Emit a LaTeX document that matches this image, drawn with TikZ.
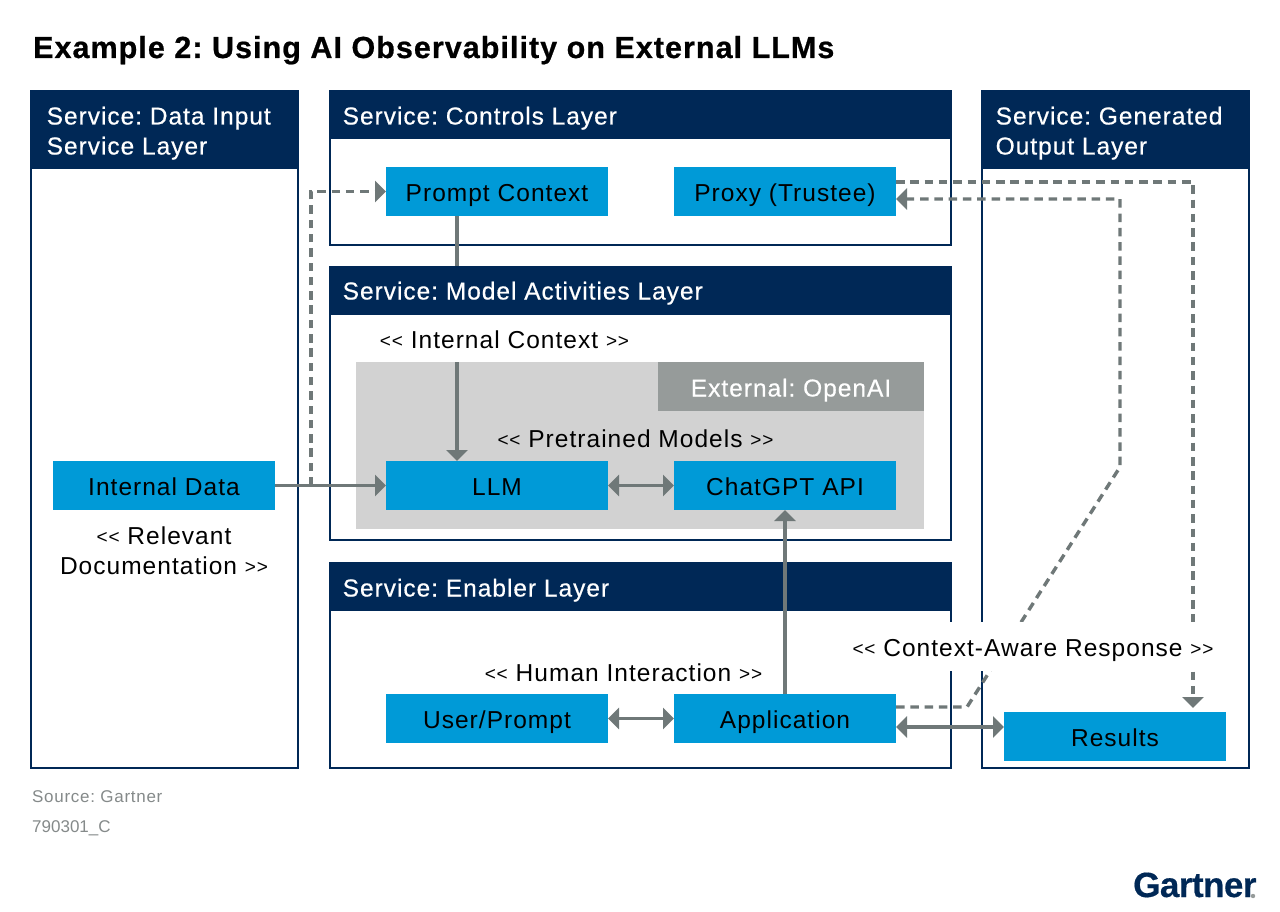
\documentclass[tikz,border=0pt]{standalone}
\usepackage{fontspec}
\setmainfont{Liberation Sans}[LetterSpace=4.2]
\newfontfamily\plainf{Liberation Sans}
\newfontfamily\headf{Liberation Sans}[LetterSpace=4.0,FakeBold=0.5]
\newfontfamily\titlef{Liberation Sans Bold}[LetterSpace=3.4,FakeBold=0.7]
\newfontfamily\logof{Liberation Sans Bold}[LetterSpace=-1.5,FakeBold=0.4]
\usetikzlibrary{arrows.meta,calc}
\definecolor{navy}{HTML}{002856}
\definecolor{skyb}{HTML}{009AD7}
\definecolor{lgray}{HTML}{D2D2D2}
\definecolor{mgray}{HTML}{969B9A}
\definecolor{conn}{HTML}{6F7878}
\definecolor{srcg}{HTML}{858A8A}
\newcommand{\bodyf}{\fontsize{24.5}{30}\selectfont}
\newcommand{\lch}{{\fontsize{19}{30}\selectfont\raisebox{1pt}{<{}<}}}
\newcommand{\rch}{{\fontsize{19}{30}\selectfont\raisebox{1pt}{>{}>}}}
\tikzset{
  x=1pt,y=-1pt,
  layer/.style={draw=navy,line width=1.6pt,fill=white,inner sep=0pt,outer sep=0pt,anchor=north west},
  head/.style={fill=navy,inner sep=0pt,outer sep=0pt,anchor=north west,minimum width=#1},
  htext/.style={text=white,font=\headf\bodyf,inner sep=0pt,anchor=base west},
  bluebox/.style={fill=skyb,text=black,font=\bodyf,inner sep=0pt,outer sep=0pt,minimum width=222pt,minimum height=49pt,text height=21pt,text depth=1pt,anchor=north west},
  lbl/.style={text=black,font=\bodyf,inner sep=0pt,anchor=base},
  link/.style={draw=conn,line width=3.4pt},
  dlink/.style={draw=conn,line width=3.4pt,dash pattern=on 8.5pt off 5.8pt,line join=miter},
  tip/.style={-{Triangle[length=11pt,width=21pt]}},
  tips/.style={{Triangle[length=11pt,width=21pt]}-{Triangle[length=11pt,width=21pt]}},
}
\begin{document}
\frenchspacing
\begin{tikzpicture}
\useasboundingbox (0,0) rectangle (1280,912);
\fill[white] (0,0) rectangle (1280,912);
% title
\node[inner sep=0pt,anchor=base west,font=\titlef\fontsize{30.5}{34}\selectfont] (title) at (33,58) {Example 2: Using AI Observability on External LLMs};
% layers
\node[layer,minimum width=266.5pt,minimum height=677.5pt] (inputlayer) at (31.2,90.5) {};
\node[layer,minimum width=621pt,minimum height=154.5pt] (controlslayer) at (329.7,90.5) {};
\node[layer,minimum width=621pt,minimum height=273.5pt] (modellayer) at (329.7,266.5) {};
\node[layer,minimum width=621pt,minimum height=205.5pt] (enablerlayer) at (329.7,562.5) {};
\node[layer,minimum width=266.5pt,minimum height=677.5pt] (outputlayer) at (982.2,90.5) {};
% headers
\node[head=267.5pt,minimum height=79pt] (inputhead) at (30.5,90) {};
\node[head=622pt,minimum height=49pt] (controlshead) at (329,90) {};
\node[head=622pt,minimum height=49pt] (modelhead) at (329,266) {};
\node[head=622pt,minimum height=49pt] (enablerhead) at (329,562) {};
\node[head=267.5pt,minimum height=79pt] (outputhead) at (981.5,90) {};
\node[htext] (t1) at (46.5,124.5) {Service: Data Input};
\node[htext] (t2) at (46.5,154.5) {Service Layer};
\node[htext] (t3) at (342.5,124.5) {Service: Controls Layer};
\node[htext] (t4) at (342.5,299.5) {Service: Model Activities Layer};
\node[htext] (t5) at (342.5,596.5) {Service: Enabler Layer};
\node[htext] (t6) at (995.5,124.5) {Service: Generated};
\node[htext] (t7) at (995.5,154.5) {Output Layer};
% gray area
\node[fill=lgray,inner sep=0pt,outer sep=0pt,anchor=north west,minimum width=568pt,minimum height=167pt] (grayarea) at (356,362) {};
\node[fill=mgray,text=white,font=\headf\bodyf,inner sep=0pt,outer sep=0pt,anchor=north west,minimum width=266pt,minimum height=49pt,text height=21pt,text depth=1pt] (external) at (658,362) {External: OpenAI};
% boxes
\node[bluebox] (prompt) at (386,167) {Prompt Context};
\node[bluebox] (proxy) at (674,167) {Proxy (Trustee)};
\node[bluebox] (llm) at (386,461) {LLM};
\node[bluebox] (chat) at (674,461) {ChatGPT API};
\node[bluebox] (internal) at (53,461) {Internal Data};
\node[bluebox] (user) at (386,694) {User/Prompt};
\node[bluebox] (app) at (674,694) {Application};
\node[bluebox] (results) at (1004,712) {Results};
% coordinates
\coordinate (xa) at (457,0);
\coordinate (xb) at (311,0);
\coordinate (xc) at (1193,0);
\coordinate (xd) at (1120,0);
\coordinate (xe) at (967,0);
\coordinate (ya) at (0,182);
\coordinate (yb) at (0,199);
\coordinate (yc) at (0,707);
\coordinate (yd) at (0,727);
\coordinate (ye) at (0,467);
\coordinate (yf) at (0,708);
% solid connectors
\draw[link] (prompt.south -| xa) -- (modelhead.north -| xa);
\draw[link,tip] (grayarea.north -| xa) -- (llm.north -| xa);
\draw[link,tip] (internal.east) -- (llm.west);
\draw[link,tips] (llm.east) -- (chat.west);
\draw[link,tip] (app.north) -- (chat.south);
\draw[link,tips] (user.east) -- (app.west);
\draw[link,tips] (app.east |- yd) -- (results.west |- yd);
% dashed connectors
\draw[dlink,tip] (llm.west -| xb) -- (prompt.west -| xb) -- (prompt.west);
\draw[dlink,tip] (proxy.east |- ya) -- (xc |- ya) -- (xc |- yf);
\draw[dlink,tip] (app.east |- yc) -- (xe |- yc) -- (xd |- ye) -- (xd |- yb) -- (proxy.east |- yb);
% labels
\node[fill=white,inner sep=0pt,anchor=north west,minimum width=366pt,minimum height=49pt] (respbg) at (850,622) {};
\node[lbl] (resp) at (1033,656) {\lch{} Context-Aware Response \rch};
\node[lbl] (l1) at (504.5,348) {\lch{} Internal Context \rch};
\node[lbl] (l2) at (635.5,447) {\lch{} Pretrained Models \rch};
\node[lbl] (l3) at (623.5,681) {\lch{} Human Interaction \rch};
\node[lbl] (l4) at (164,544) {\lch{} Relevant};
\node[lbl] (l5) at (164,574) {Documentation \rch};
% source
\node[inner sep=0pt,anchor=base west,text=srcg,font=\fontsize{17}{20}\selectfont] (src) at (32,802) {Source: Gartner};
\node[inner sep=0pt,anchor=base west,text=srcg,font=\plainf\fontsize{17}{20}\selectfont] (code) at (32,832) {790301\_C};
% logo
\node[inner sep=0pt,anchor=base west,text=navy,font=\logof\fontsize{35}{36}\selectfont] (logo) at (1133,897) {Gartner};
\fill[mgray] (1253,896) circle (2.2pt);
\end{tikzpicture}
\end{document}
